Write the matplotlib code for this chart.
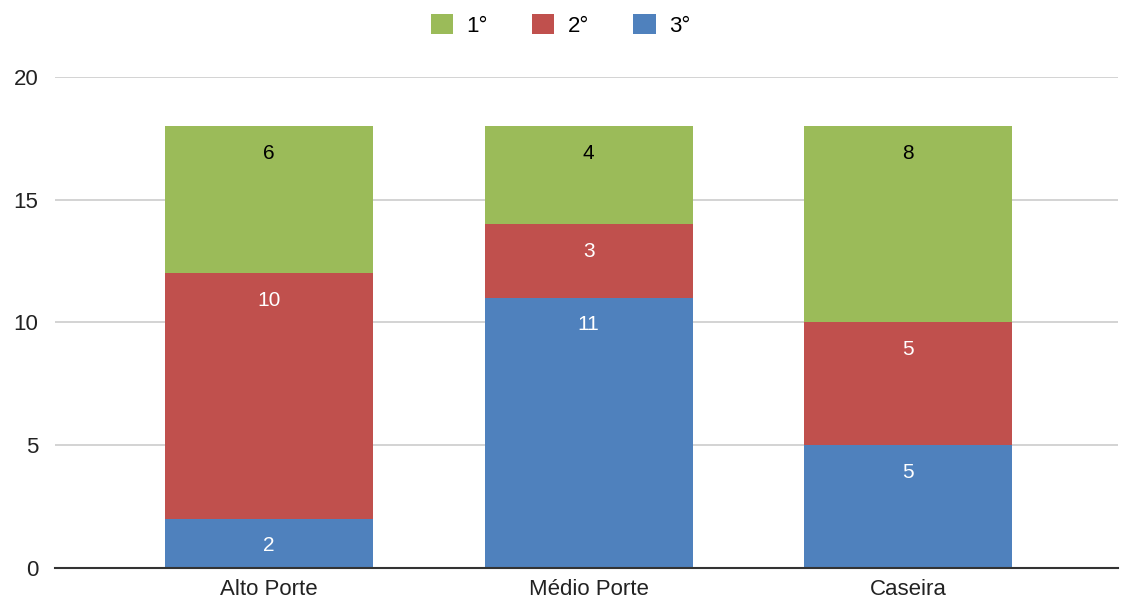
import matplotlib.pyplot as plt
import numpy as np

categories = ['Alto Porte', 'Médio Porte', 'Caseira']
series_names = ['1°', '2°', '3°']
terceiro = [2, 11, 5]
segundo = [10, 3, 5]
primeiro = [6, 4, 8]

colors = {'1°': '#9bbb59', '2°': '#c0504d', '3°': '#4f81bd'}

plt.rcParams['font.family'] = ['Liberation Sans', 'DejaVu Sans']

fig = plt.figure(figsize=(11.21, 6.04), dpi=100)
ax = fig.add_axes([0.049, 0.0596, 0.948, 0.813])

x = np.arange(len(categories))
width = 0.65

bottom = np.zeros(len(categories))
stack = [('3°', terceiro, 'white'), ('2°', segundo, 'white'), ('1°', primeiro, 'black')]
handles = {}
for name, vals, tcolor in stack:
    bars = ax.bar(x, vals, width, bottom=bottom, color=colors[name], label=name, zorder=3)
    handles[name] = bars
    for xi, b, v in zip(x, bottom, vals):
        ax.annotate(str(v), (xi, b + v), xytext=(0, -27), textcoords='offset pixels',
                    ha='center', va='center', color=tcolor, fontsize=15, zorder=4)
    bottom = bottom + np.array(vals)

ax.set_ylim(0, 20)
ax.set_xlim(-0.67, 2.655)
ax.set_yticks([0, 5, 10, 15, 20])
ax.set_xticks(x)
ax.set_xticklabels(categories)
ax.tick_params(axis='both', length=0, labelsize=16, colors='#222222')
ax.tick_params(axis='y', pad=12)
ax.tick_params(axis='x', pad=8)

ax.grid(axis='y', color='#cccccc', linewidth=1.2, zorder=0)
for s in ['top', 'right', 'left']:
    ax.spines[s].set_visible(False)
ax.spines['bottom'].set_color('#333333')
ax.spines['bottom'].set_linewidth(1.5)
ax.spines['bottom'].set_zorder(5)

fig.legend([handles[n] for n in series_names], series_names, loc='center',
           bbox_to_anchor=(0.5, 0.958), ncol=3, frameon=False, fontsize=16,
           handlelength=1.0, handleheight=1.0, handletextpad=0.6, columnspacing=2.0)

fig.savefig('out.png', dpi=100)
